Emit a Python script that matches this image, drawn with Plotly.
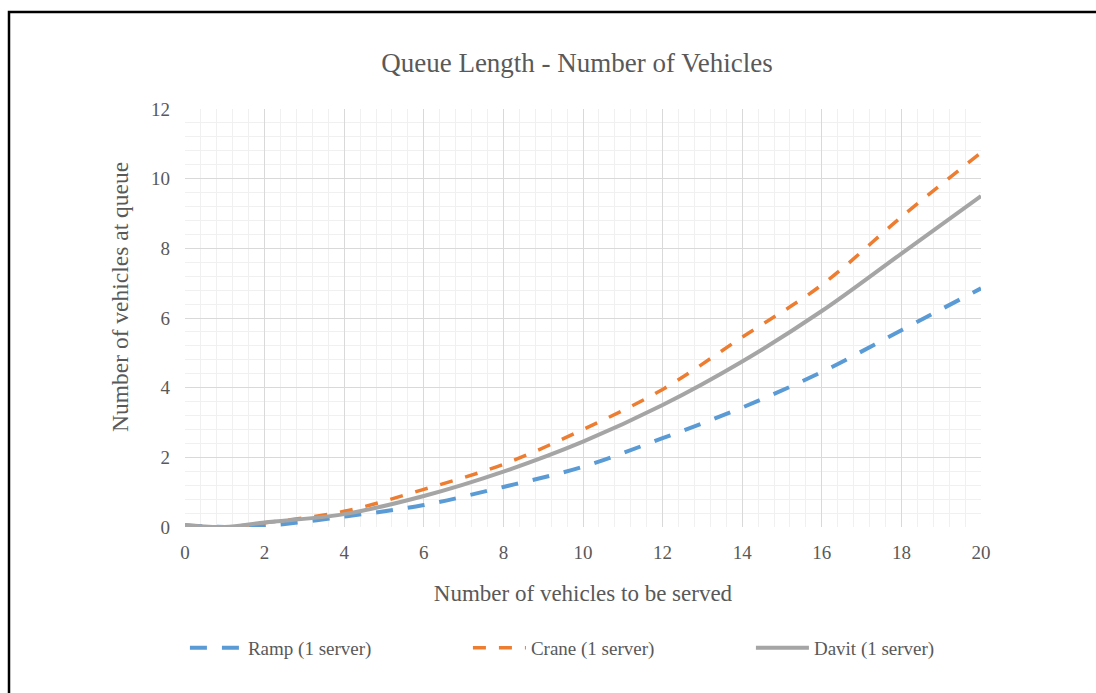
import plotly.graph_objects as go

# Number of vehicles to be served
vehicles = [0, 1, 2, 4, 6, 8, 10, 12, 14, 16, 18, 20]

# Number of vehicles waiting in the queue, one list per service type
ramp_queue = [0.05, 0.0, 0.03, 0.30, 0.63, 1.15, 1.73, 2.55, 3.43, 4.45, 5.65, 6.85]
crane_queue = [0.05, 0.0, 0.12, 0.45, 1.08, 1.80, 2.80, 3.95, 5.45, 6.95, 8.90, 10.75]
davit_queue = [0.05, 0.0, 0.13, 0.37, 0.89, 1.59, 2.45, 3.50, 4.75, 6.20, 7.85, 9.50]

series_names = ["Ramp (1 server)", "Crane (1 server)", "Davit (1 server)"]
x_ticks = [0, 2, 4, 6, 8, 10, 12, 14, 16, 18, 20]
y_ticks = [0, 2, 4, 6, 8, 10, 12]

TEXT = "#595959"
FONT = "Liberation Serif"

W, H = 1096, 693
ML, MR, MT, MB = 185, 115, 109, 166
PW, PH = W - ML - MR, H - MT - MB

fig = go.Figure()
fig.add_trace(go.Scatter(
    x=vehicles, y=ramp_queue, name=series_names[0], mode="lines",
    line=dict(color="#5B9BD5", width=4, dash="17px,15px", shape="spline", smoothing=1),
))
fig.add_trace(go.Scatter(
    x=vehicles, y=crane_queue, name=series_names[1], mode="lines",
    line=dict(color="#ED7D31", width=3.5, dash="13px,13px", shape="spline", smoothing=1),
))
fig.add_trace(go.Scatter(
    x=vehicles, y=davit_queue, name=series_names[2], mode="lines",
    line=dict(color="#A5A5A5", width=4, shape="spline", smoothing=1),
))

axis_common = dict(
    showgrid=True, gridcolor="#D9D9D9", gridwidth=1,
    minor=dict(showgrid=True, gridcolor="#F0F0F0", gridwidth=1),
    zeroline=False, showline=False,
    tickfont=dict(family=FONT, size=19, color=TEXT),
    ticks="",
)

fig.update_xaxes(
    range=[0, 20], tickvals=x_ticks, ticktext=[str(v) for v in x_ticks],
    minor_dtick=0.4, minor_tick0=0,
    ticklabelstandoff=12,
    title=dict(text="Number of vehicles to be served",
               font=dict(family=FONT, size=23, color=TEXT), standoff=22),
    **axis_common,
)
fig.update_yaxes(
    range=[0, 12], tickvals=y_ticks, ticktext=[str(v) for v in y_ticks],
    minor_dtick=0.4, minor_tick0=0,
    ticklabelstandoff=14,
    **axis_common,
)

# Vertical axis title, placed slightly above the plot's middle
fig.add_annotation(
    text="Number of vehicles at queue", textangle=-90,
    xref="paper", yref="paper",
    x=(120 - ML) / PW, y=(H - MB - 297) / PH,
    xanchor="center", yanchor="middle", showarrow=False,
    font=dict(family=FONT, size=23.5, color=TEXT),
)

# Outer frame of the chart area (left and top edges inside the page)
fx0 = (9 - ML) / PW
fy1 = (H - MB - 12) / PH
fx1 = (W + 20 - ML) / PW
fy0 = (H - MB - (H + 20)) / PH
fig.add_shape(type="rect", xref="paper", yref="paper",
              x0=fx0, x1=fx1, y0=fy0, y1=fy1,
              line=dict(color="black", width=2.5), fillcolor="rgba(0,0,0,0)",
              layer="above")

fig.update_layout(
    width=W, height=H, autosize=False,
    margin=dict(l=ML, r=MR, t=MT, b=MB),
    paper_bgcolor="white", plot_bgcolor="white",
    title=dict(text="Queue Length - Number of Vehicles",
               font=dict(family=FONT, size=27, color=TEXT),
               x=577 / W, xanchor="center", y=1 - 63 / H, yanchor="middle"),
    legend=dict(
        orientation="h", x=-0.0001, xanchor="left",
        y=(H - MB - 648) / PH, yanchor="middle",
        font=dict(family=FONT, size=19, color=TEXT),
        entrywidth=215, entrywidthmode="pixels",
        bgcolor="rgba(0,0,0,0)", itemwidth=53,
    ),
    showlegend=True,
)

fig.write_html("out.html")
